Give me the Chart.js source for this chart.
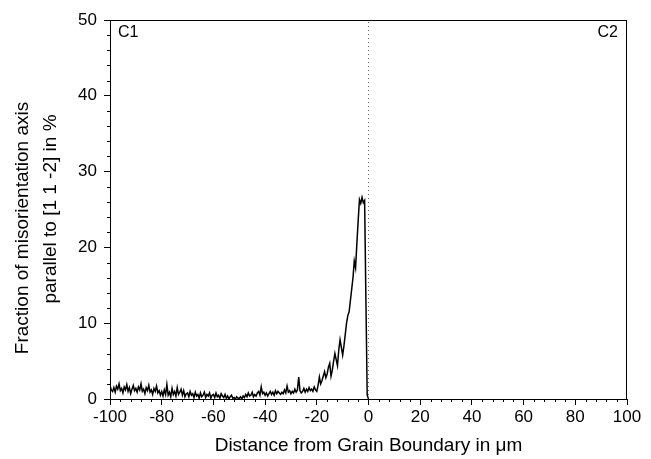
<!DOCTYPE html>
<html>
<head>
<meta charset="utf-8">
<script src="https://cdn.jsdelivr.net/npm/chart.js@4"></script>
<style>
  body { margin: 0; background: #fff; }
</style>
</head>
<body>
<canvas id="chart" width="651" height="459"></canvas>
<script>
// sampling grid of the profile (µm), one value every 0.5 µm from -100 to 0
const distanceStart = -100;
const distanceStep = 0.5;

// fraction in %, one row per 10 µm
const fraction = [
  1.8, 1.2, 1.0, 1.5, 0.9, 1.7, 1.3, 2.0, 1.1, 1.4, 0.8, 1.6, 1.2, 1.9, 1.0, 1.5, 0.7, 1.3, 1.8, 1.1,
  1.4, 0.9, 1.6, 1.2, 2.0, 1.0, 1.3, 0.7, 1.5, 1.1, 1.8, 0.9, 1.2, 0.6, 1.4, 1.0, 1.7, 0.8, 1.1, 0.5,
  1.0, 0.4, 1.2, 0.6, 1.9, 0.5, 0.9, 0.3, 1.4, 0.6, 1.0, 0.4, 1.5, 0.6, 0.9, 1.3, 0.5, 1.1, 0.3, 0.7,
  0.8, 0.3, 1.0, 0.5, 0.7, 0.2, 0.9, 0.4, 0.6, 0.1, 0.8, 0.3, 0.5, 0.9, 0.2, 0.6, 0.4, 0.8, 0.1, 0.5,
  0.6, 0.2, 0.8, 0.3, 0.5, 0.1, 0.7, 0.4, 0.2, 0.6, 0.1, 0.4, 0.0, 0.3, 0.5, 0.1, 0.2, 0.0, 0.3, 0.1,
  0.1, 0.3, 0.0, 0.4, 0.2, 0.6, 0.3, 0.8, 0.4, 0.5, 0.9, 0.3, 0.6, 0.4, 0.8, 1.0, 0.5, 1.6, 0.7, 0.9,
  0.5, 0.8, 0.4, 0.7, 1.0, 0.6, 0.9, 0.5, 1.1, 0.7, 1.0, 0.8, 0.6, 0.9, 0.7, 1.2, 0.8, 1.7, 0.9, 1.1,
  0.7, 1.0, 0.8, 1.3, 0.9, 1.2, 2.9, 1.1, 0.8, 1.0, 1.4, 0.9, 1.3, 1.0, 1.5, 1.1, 1.3, 1.0, 1.6, 1.2,
  1.0, 1.8, 2.9, 2.0, 2.4, 3.0, 3.6, 2.8, 3.3, 4.2, 4.7, 3.0, 3.8, 5.0, 6.0, 5.2, 4.4, 6.5, 7.8, 6.8,
  5.8, 7.0, 8.5, 10.0, 11.0, 11.5, 13.0, 14.5, 16.0, 18.2, 17.3, 20.5, 23.5, 26.3, 25.8, 26.6, 25.9, 26.2, 13.0, 0.5,
  0.0
];

const boundary = [0, 0];       // grain boundary position
const boundaryY = [0, 50];

const xMajor = 20, xMinor = 4;
const yMajor = 10, yMinor = 2;
const grainLabels = ['C1', 'C2'];
const yTitle = ['Fraction of misorientation axis', 'parallel to [1 1 -2] in %'];

const FONT = '"Liberation Sans", Arial, sans-serif';

const profile = fraction.map((v, i) => ({ x: distanceStart + i * distanceStep, y: v }));
const boundaryLine = boundary.map((x, i) => ({ x: x, y: boundaryY[i] }));

// frame, minor ticks, y title and the C1 / C2 labels
const framePlugin = {
  id: 'frame',
  afterDraw(chart) {
    const ctx = chart.ctx;
    const a = chart.chartArea;
    ctx.save();
    ctx.strokeStyle = '#000';
    ctx.lineWidth = 1;
    ctx.strokeRect(Math.round(a.left) + 0.5, Math.round(a.top) + 0.5,
      Math.round(a.right - a.left) - 1, Math.round(a.bottom - a.top));

    // minor ticks, outward
    ctx.beginPath();
    chart.scales.x.ticks.forEach(t => {
      if (t.value % xMajor !== 0) {
        const px = Math.round(chart.scales.x.getPixelForValue(t.value)) + 0.5;
        ctx.moveTo(px, a.bottom);
        ctx.lineTo(px, a.bottom + 3);
      }
    });
    chart.scales.y.ticks.forEach(t => {
      if (t.value % yMajor !== 0) {
        const py = Math.round(chart.scales.y.getPixelForValue(t.value)) + 0.5;
        ctx.moveTo(a.left, py);
        ctx.lineTo(a.left - 3, py);
      }
    });
    ctx.stroke();

    ctx.fillStyle = '#000';
    ctx.font = '16px ' + FONT;
    ctx.textBaseline = 'alphabetic';
    ctx.textAlign = 'left';
    ctx.fillText(grainLabels[0], a.left + 8, a.top + 17);
    ctx.textAlign = 'right';
    ctx.fillText(grainLabels[1], a.right - 9, a.top + 17);

    // y axis title, two rotated lines
    ctx.font = '19px ' + FONT;
    ctx.textAlign = 'center';
    ctx.textBaseline = 'middle';
    [[23, 228], [51, 209]].forEach((p, i) => {
      ctx.save();
      ctx.translate(p[0], p[1]);
      ctx.rotate(-Math.PI / 2);
      ctx.fillText(yTitle[i], 0, 0);
      ctx.restore();
    });
    ctx.restore();
  }
};

const config = {
  type: 'line',
  data: {
    datasets: [
      {
        data: profile,
        borderColor: '#000',
        borderWidth: 1.5,
        pointRadius: 0,
        tension: 0
      },
      {
        data: boundaryLine,
        borderColor: '#666',
        borderWidth: 1,
        borderDash: [1, 3],
        pointRadius: 0
      }
    ]
  },
  options: {
    responsive: false,
    animation: false,
    layout: { padding: { top: 20, right: 24, left: 0, bottom: 0 } },
    plugins: {
      legend: { display: false },
      tooltip: { enabled: false }
    },
    scales: {
      x: {
        type: 'linear',
        min: -100,
        max: 100,
        afterFit: s => { s.height = 60; },
        border: { color: '#000', width: 1 },
        grid: {
          drawOnChartArea: false,
          tickLength: 6,
          tickColor: c => (c.tick && c.tick.value % xMajor === 0) ? '#000' : 'rgba(0,0,0,0)'
        },
        ticks: {
          stepSize: xMinor,
          autoSkip: false,
          maxRotation: 0,
          padding: 2,
          color: '#000',
          font: { family: FONT, size: 17 },
          callback: v => v % xMajor === 0 ? v : ''
        },
        title: {
          display: true,
          text: 'Distance from Grain Boundary in μm',
          color: '#000',
          font: { family: FONT, size: 19 },
          padding: { top: 0, bottom: 2 }
        }
      },
      y: {
        min: 0,
        max: 50,
        afterFit: s => { s.width = 110; },
        border: { color: '#000', width: 1 },
        grid: {
          drawOnChartArea: false,
          tickLength: 6,
          tickColor: c => (c.tick && c.tick.value % yMajor === 0) ? '#000' : 'rgba(0,0,0,0)'
        },
        ticks: {
          stepSize: yMinor,
          autoSkip: false,
          padding: 7,
          color: '#000',
          font: { family: FONT, size: 17 },
          callback: v => v % yMajor === 0 ? v : ''
        }
      }
    }
  },
  plugins: [framePlugin]
};

window.onload = function() {
  const ctx = document.getElementById('chart').getContext('2d');
  new Chart(ctx, config);
};
</script>
</body>
</html>
